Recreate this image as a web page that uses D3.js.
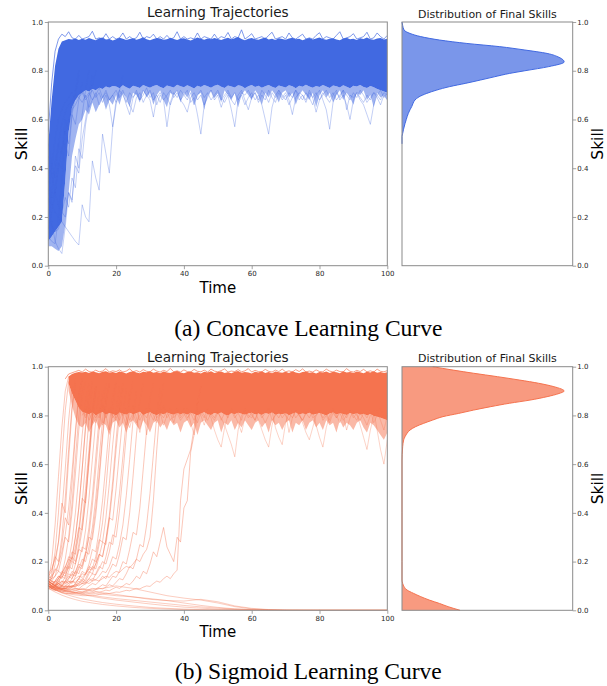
<!DOCTYPE html>
<html><head><meta charset="utf-8">
<script src="https://cdn.jsdelivr.net/npm/d3@7"></script>
<style>body{margin:0;background:#fff}svg{display:block}</style>
</head><body>
<svg id="chart" width="607" height="686"></svg>
<script>
// ---------- shared ticks / labels ----------
const timeTicks = [0, 20, 40, 60, 80, 100];
const skillTicks = [0, 0.2, 0.4, 0.6, 0.8, 1.0];
const skillTickLabels = ["0.0", "0.2", "0.4", "0.6", "0.8", "1.0"];
const panelTitles = ["Learning Trajectories", "Distribution of Final Skills"];
const axisLabels = {x: "Time", y: "Skill"};
const captions = ["(a) Concave Learning Curve", "(b) Sigmoid Learning Curve"];

// ---------- (a) concave: values at t = 0,1,2,... ----------
const concaveCoreUpper = [
0.50,0.68,0.82,0.89,0.92,0.925,0.93,0.928,0.932,0.926,
0.931,0.927,0.934,0.929,0.925,0.933,0.936,0.928,0.930,0.924,
0.929,0.935,0.931,0.926,0.930,0.933,0.927,0.931,0.937,0.929,
0.925,0.930,0.934,0.932,0.927,0.929,0.935,0.930,0.926,0.931,
0.933,0.928,0.924,0.930,0.936,0.931,0.927,0.932,0.929,0.934,
0.930,0.926,0.931,0.935,0.929,0.933,0.938,0.930,0.925,0.931,
0.934,0.929,0.927,0.932,0.936,0.928,0.931,0.926,0.933,0.930,
0.927,0.932,0.935,0.929,0.931,0.925,0.930,0.934,0.928,0.932,
0.936,0.930,0.927,0.931,0.933,0.928,0.925,0.932,0.935,0.929,
0.931,0.926,0.933,0.930,0.936,0.929,0.927,0.932,0.934,0.928,
0.931];
const concaveCoreLower = [
0.10,0.12,0.14,0.16,0.18,0.35,0.55,0.65,0.68,0.70,
0.71,0.72,0.715,0.725,0.72,0.73,0.725,0.735,0.73,0.737,
0.735,0.728,0.74,0.732,0.726,0.738,0.734,0.729,0.741,0.735,
0.73,0.737,0.742,0.733,0.728,0.739,0.735,0.731,0.743,0.736,
0.732,0.74,0.734,0.727,0.738,0.733,0.741,0.736,0.73,0.738,
0.743,0.734,0.729,0.739,0.735,0.731,0.74,0.737,0.728,0.736,
0.741,0.733,0.738,0.73,0.736,0.742,0.734,0.729,0.739,0.735,
0.731,0.74,0.736,0.728,0.738,0.734,0.743,0.735,0.73,0.737,
0.733,0.741,0.735,0.729,0.739,0.736,0.731,0.74,0.734,0.728,
0.738,0.735,0.742,0.733,0.729,0.737,0.732,0.725,0.72,0.715,
0.71];
const concaveFringeLower = [
0.08,0.08,0.07,0.06,0.08,0.17,0.30,0.45,0.52,0.58,
0.60,0.64,0.62,0.67,0.63,0.66,0.69,0.64,0.68,0.66,
0.70,0.66,0.71,0.69,0.65,0.71,0.70,0.67,0.72,0.69,
0.71,0.66,0.70,0.72,0.68,0.65,0.71,0.70,0.72,0.67,
0.71,0.69,0.72,0.66,0.70,0.71,0.64,0.70,0.72,0.69,
0.71,0.67,0.72,0.70,0.68,0.71,0.65,0.70,0.72,0.70,
0.68,0.72,0.70,0.66,0.71,0.69,0.72,0.70,0.67,0.71,
0.72,0.69,0.71,0.66,0.70,0.72,0.70,0.68,0.71,0.65,
0.70,0.72,0.69,0.71,0.67,0.70,0.72,0.68,0.71,0.69,
0.66,0.71,0.70,0.72,0.68,0.70,0.65,0.71,0.69,0.70,
0.68];
const concaveHigh1 = [
0.55,0.75,0.88,0.93,0.95,0.94,0.96,0.935,0.93,0.945,
0.93,0.935,0.94,0.962,0.93,0.935,0.93,0.952,0.93,0.94,
0.93,0.935,0.955,0.93,0.94,0.93,0.935,0.958,0.93,0.94,
0.935,0.95,0.93,0.94,0.93,0.945,0.93,0.935,0.96,0.93,
0.94,0.93,0.935,0.93,0.955,0.93,0.94,0.935,0.93,0.95,
0.93,0.94,0.935,0.957,0.93,0.94,0.935,0.968,0.93,0.94,
0.952,0.93,0.935,0.94,0.93,0.945,0.958,0.93,0.935,0.94,
0.93,0.955,0.935,0.93,0.94,0.95,0.93,0.935,0.93,0.945,
0.956,0.93,0.94,0.935,0.93,0.945,0.96,0.93,0.935,0.94,
0.952,0.93,0.935,0.94,0.958,0.93,0.935,0.955,0.94,0.93,
0.945];
const concaveLow1 = [
0.20,0.30,0.42,0.50,0.58,0.63,0.66,0.68,0.70,0.69,
0.71,0.68,0.70,0.72,0.69,0.71,0.67,0.70,0.66,0.57,
0.68,0.72,0.70,0.67,0.71,0.69,0.72,0.68,0.70,0.73,
0.69,0.71,0.66,0.70,0.68,0.57,0.67,0.71,0.69,0.72,
0.70,0.68,0.71,0.66,0.70,0.72,0.69,0.71,0.68,0.70,
0.72,0.69,0.67,0.70,0.64,0.57,0.68,0.71,0.70,0.72,
0.69,0.71,0.68,0.72,0.70,0.67,0.71,0.69,0.72,0.70,
0.68,0.71,0.69,0.72,0.70,0.68,0.71,0.69,0.66,0.70,
0.72,0.68,0.64,0.56,0.67,0.71,0.69,0.72,0.70,0.68,
0.71,0.69,0.72,0.70,0.67,0.69,0.71,0.70,0.68,0.71,
0.70];
const concaveLow2 = [
0.30,0.40,0.52,0.60,0.64,0.67,0.69,0.71,0.68,0.70,
0.72,0.69,0.71,0.68,0.70,0.73,0.69,0.71,0.68,0.70,
0.72,0.69,0.71,0.66,0.62,0.69,0.71,0.68,0.72,0.70,
0.68,0.61,0.69,0.71,0.68,0.70,0.72,0.69,0.71,0.68,
0.70,0.72,0.67,0.69,0.62,0.54,0.66,0.70,0.72,0.69,
0.71,0.68,0.70,0.72,0.69,0.71,0.68,0.70,0.66,0.69,
0.71,0.68,0.70,0.66,0.60,0.54,0.65,0.70,0.72,0.69,
0.71,0.68,0.62,0.69,0.71,0.70,0.68,0.72,0.69,0.71,
0.68,0.70,0.72,0.69,0.71,0.68,0.70,0.72,0.64,0.70,
0.69,0.71,0.68,0.66,0.62,0.58,0.66,0.70,0.72,0.69,
0.71];
const concaveLow3 = [
0.15,0.22,0.30,0.40,0.48,0.55,0.60,0.64,0.66,0.69,
0.67,0.70,0.65,0.68,0.71,0.66,0.69,0.72,0.68,0.70,
0.67,0.70,0.72,0.68,0.66,0.63,0.69,0.71,0.67,0.70,
0.72,0.68,0.70,0.67,0.71,0.69,0.66,0.70,0.72,0.68,
0.66,0.63,0.69,0.71,0.68,0.70,0.66,0.69,0.72,0.68,
0.70,0.65,0.69,0.71,0.68,0.66,0.70,0.72,0.68,0.64,
0.69,0.71,0.67,0.70,0.68,0.72,0.69,0.67,0.71,0.68,
0.70,0.66,0.69,0.72,0.68,0.70,0.67,0.71,0.69,0.63,
0.68,0.71,0.69,0.67,0.70,0.72,0.68,0.70,0.66,0.60,
0.68,0.71,0.69,0.67,0.70,0.68,0.71,0.69,0.66,0.70,
0.68];
// slow early learners (t = 0,1,2,... until they join the band)
const concaveEarly1 = [0.30,0.25,0.22,0.20,0.18,0.16,0.14,0.12,0.10,0.085,0.25,0.20,0.18,0.43,0.36,0.31,0.54,0.46,0.38,0.57,0.66,0.72,0.78];
const concaveEarly2 = [0.28,0.18,0.10,0.07,0.05,0.16,0.30,0.26,0.45,0.40,0.62,0.72,0.80];
const concaveEarly3 = [0.45,0.38,0.30,0.25,0.22,0.28,0.24,0.36,0.32,0.48,0.44,0.58,0.66,0.74,0.80];
const concaveEarly4 = [0.20,0.16,0.14,0.15,0.22,0.20,0.30,0.27,0.41,0.38,0.52,0.60,0.70,0.78];
const concaveEarly5 = [0.12,0.10,0.09,0.20,0.35,0.50,0.45,0.62,0.70,0.78];
const concaveEarly6 = [0.50,0.42,0.36,0.50,0.46,0.60,0.56,0.64,0.72,0.80];
const concaveEarly7 = [0.35,0.28,0.30,0.42,0.40,0.55,0.50,0.62,0.58,0.68,0.75];
const concaveKdeSkill = [0.50,0.53,0.543,0.56,0.584,0.60,0.625,0.64,0.653,0.667,0.68,0.693,0.707,0.72,0.735,0.748,0.762,0.775,0.789,0.80,0.817,0.836,0.855,0.871,0.885,0.899,0.912,0.926,0.94,0.953,0.967,0.985,1.0];
const concaveKdeDensity = [0,0,0.004,0.009,0.018,0.025,0.037,0.047,0.057,0.065,0.076,0.10,0.145,0.20,0.28,0.37,0.46,0.54,0.63,0.72,0.86,0.95,0.92,0.85,0.72,0.57,0.38,0.22,0.11,0.047,0.012,0.004,0];

// ---------- (b) sigmoid ----------
const sigmoidCoreUpper = [
null,null,null,null,null,null,0.96,0.97,0.975,0.978,
0.976,0.979,0.974,0.98,0.977,0.973,0.979,0.981,0.975,0.978,
0.974,0.98,0.977,0.972,0.978,0.981,0.976,0.973,0.979,0.977,
0.981,0.975,0.978,0.973,0.98,0.976,0.974,0.979,0.982,0.976,
0.973,0.978,0.98,0.975,0.977,0.972,0.979,0.976,0.981,0.974,
0.978,0.98,0.974,0.977,0.973,0.979,0.982,0.975,0.978,0.976,
0.972,0.979,0.976,0.981,0.974,0.978,0.973,0.98,0.977,0.975,
0.979,0.974,0.981,0.976,0.973,0.978,0.98,0.975,0.977,0.972,
0.978,0.976,0.98,0.974,0.979,0.977,0.973,0.981,0.976,0.978,
0.974,0.98,0.977,0.973,0.979,0.976,0.981,0.975,0.978,0.974,
0.977];
const sigmoidCoreLower = [
null,null,null,null,null,null,0.93,0.89,0.86,0.83,
0.815,0.81,0.805,0.812,0.80,0.808,0.814,0.803,0.81,0.806,
0.80,0.812,0.807,0.803,0.811,0.805,0.809,0.815,0.802,0.808,
0.813,0.806,0.801,0.809,0.804,0.812,0.807,0.803,0.81,0.805,
0.809,0.803,0.811,0.806,0.80,0.808,0.813,0.805,0.802,0.81,
0.806,0.812,0.804,0.80,0.809,0.805,0.811,0.807,0.803,0.808,
0.811,0.804,0.808,0.802,0.81,0.806,0.812,0.803,0.807,0.805,
0.809,0.801,0.807,0.812,0.804,0.808,0.805,0.811,0.803,0.806,
0.81,0.805,0.80,0.808,0.812,0.804,0.809,0.806,0.802,0.81,
0.805,0.809,0.803,0.807,0.80,0.806,0.798,0.795,0.79,0.785,
0.78];
const sigmoidFringeLower = [
null,null,null,null,null,null,0.90,0.84,0.79,0.76,
0.75,0.77,0.73,0.76,0.78,0.74,0.77,0.76,0.72,0.77,
0.78,0.75,0.77,0.73,0.77,0.78,0.76,0.74,0.78,0.76,
0.73,0.77,0.78,0.75,0.77,0.74,0.78,0.76,0.77,0.73,
0.77,0.78,0.75,0.77,0.72,0.77,0.78,0.76,0.74,0.77,
0.78,0.73,0.77,0.76,0.78,0.74,0.77,0.75,0.78,0.76,
0.74,0.77,0.78,0.75,0.77,0.73,0.78,0.76,0.77,0.74,
0.77,0.78,0.73,0.77,0.76,0.78,0.74,0.77,0.78,0.75,
0.77,0.74,0.78,0.76,0.77,0.73,0.78,0.75,0.77,0.76,
0.74,0.77,0.78,0.75,0.73,0.77,0.76,0.74,0.72,0.70,
0.73];
const sigmoidHigh1 = [
null,null,null,null,null,0.95,0.97,0.975,0.98,0.985,
0.978,0.99,0.98,0.977,0.986,0.979,0.982,0.992,0.978,0.983,
0.98,0.987,0.978,0.982,0.991,0.979,0.984,0.978,0.988,0.981,
0.979,0.99,0.982,0.978,0.985,0.98,0.993,0.979,0.983,0.978,
0.987,0.98,0.978,0.989,0.981,0.979,0.986,0.978,0.99,0.982,
0.979,0.984,0.991,0.978,0.982,0.98,0.988,0.979,0.983,0.992,
0.978,0.985,0.98,0.979,0.989,0.981,0.978,0.986,0.98,0.99,
0.979,0.983,0.978,0.988,0.98,0.991,0.979,0.982,0.978,0.987,
0.98,0.979,0.99,0.982,0.978,0.986,0.98,0.979,0.992,0.981,
0.978,0.985,0.98,0.989,0.979,0.983,0.978,0.99,0.981,0.979,
0.984];
const sigmoidSpike1 = [
null,null,null,null,null,null,null,null,null,null,
0.82,0.79,0.83,0.80,0.77,0.81,0.84,0.79,0.82,0.80,
0.78,0.83,0.80,0.76,0.81,0.84,0.79,0.73,0.80,0.83,
0.81,0.78,0.82,0.80,0.84,0.79,0.81,0.77,0.82,0.80,
0.83,0.79,0.81,0.78,0.82,0.80,0.76,0.81,0.79,0.74,
0.70,0.67,0.75,0.80,0.82,0.79,0.81,0.78,0.83,0.80,
0.79,0.82,0.78,0.74,0.70,0.67,0.76,0.81,0.79,0.82,
0.80,0.78,0.82,0.79,0.81,0.77,0.73,0.70,0.75,0.80,
0.82,0.79,0.81,0.78,0.83,0.80,0.77,0.81,0.79,0.82,
0.80,0.78,0.81,0.79,0.76,0.80,0.82,0.74,0.66,0.60,
0.70];
const sigmoidSpike2 = [
null,null,null,null,null,null,null,null,null,null,
0.80,0.83,0.78,0.81,0.79,0.82,0.76,0.80,0.83,0.79,
0.81,0.78,0.82,0.79,0.75,0.80,0.82,0.78,0.81,0.79,
0.83,0.80,0.77,0.81,0.79,0.82,0.78,0.80,0.83,0.79,
0.81,0.78,0.82,0.80,0.77,0.81,0.79,0.83,0.80,0.78,
0.81,0.79,0.76,0.72,0.68,0.63,0.74,0.80,0.82,0.79,
0.81,0.78,0.82,0.80,0.77,0.80,0.82,0.75,0.71,0.68,
0.77,0.81,0.79,0.82,0.80,0.78,0.81,0.79,0.82,0.76,
0.71,0.67,0.75,0.80,0.82,0.79,0.81,0.78,0.80,0.82,
0.79,0.81,0.76,0.71,0.66,0.74,0.80,0.82,0.78,0.74,
0.80];
const sigmoidSpike3 = [
null,null,null,null,null,null,null,null,null,null,
0.84,0.80,0.82,0.77,0.81,0.79,0.83,0.80,0.74,0.81,
0.79,0.82,0.80,0.83,0.78,0.81,0.77,0.80,0.82,0.72,
0.80,0.82,0.79,0.81,0.76,0.80,0.83,0.79,0.81,0.78,
0.80,0.83,0.77,0.72,0.79,0.82,0.80,0.78,0.81,0.79,
0.82,0.78,0.81,0.79,0.83,0.80,0.77,0.73,0.79,0.82,
0.80,0.78,0.82,0.79,0.81,0.83,0.78,0.80,0.82,0.79,
0.81,0.73,0.79,0.82,0.80,0.78,0.81,0.83,0.79,0.80,
0.82,0.78,0.80,0.77,0.81,0.79,0.82,0.80,0.74,0.79,
0.82,0.80,0.78,0.81,0.79,0.82,0.77,0.80,0.83,0.79,
0.81];
// rising trajectories (t = 0,1,2,... until they reach the band)
const sigmoidRise1 = [0.12,0.20,0.35,0.55,0.75,0.90,0.96];
const sigmoidRise2 = [0.10,0.15,0.24,0.40,0.62,0.82,0.94];
const sigmoidRise3 = [0.11,0.13,0.19,0.28,0.44,0.40,0.62,0.82,0.93];
const sigmoidRise4 = [0.14,0.16,0.22,0.20,0.30,0.46,0.66,0.84,0.95];
const sigmoidRise5 = [0.10,0.12,0.14,0.19,0.27,0.38,0.35,0.52,0.72,0.88,0.95];
const sigmoidRise6 = [0.09,0.10,0.12,0.11,0.15,0.21,0.30,0.44,0.62,0.80,0.92];
const sigmoidRise7 = [0.12,0.13,0.17,0.16,0.22,0.30,0.28,0.40,0.56,0.74,0.88,0.94];
const sigmoidRise8 = [0.10,0.11,0.10,0.13,0.16,0.15,0.20,0.28,0.40,0.55,0.72,0.86,0.93];
const sigmoidRise9 = [0.11,0.10,0.12,0.14,0.13,0.17,0.22,0.21,0.30,0.42,0.58,0.75,0.88,0.94];
const sigmoidRise10 = [0.10,0.09,0.10,0.12,0.11,0.14,0.18,0.17,0.24,0.33,0.46,0.44,0.62,0.80,0.91];
const sigmoidRise11 = [0.13,0.12,0.11,0.13,0.15,0.14,0.18,0.22,0.20,0.27,0.36,0.50,0.66,0.82,0.92];
const sigmoidRise12 = [0.10,0.09,0.095,0.11,0.10,0.12,0.15,0.14,0.19,0.25,0.24,0.33,0.46,0.62,0.78,0.90];
const sigmoidRise13 = [0.11,0.10,0.09,0.10,0.12,0.11,0.13,0.16,0.15,0.20,0.26,0.25,0.34,0.47,0.63,0.79,0.90];
const sigmoidRise14 = [0.09,0.085,0.08,0.09,0.085,0.10,0.12,0.11,0.14,0.18,0.17,0.23,0.31,0.43,0.58,0.74,0.87,0.93];
const sigmoidRise15 = [0.12,0.11,0.10,0.095,0.10,0.12,0.11,0.13,0.16,0.15,0.19,0.24,0.23,0.31,0.42,0.56,0.72,0.86,0.93];
const sigmoidRise16 = [0.10,0.095,0.09,0.085,0.09,0.085,0.10,0.12,0.11,0.13,0.16,0.15,0.19,0.25,0.24,0.33,0.45,0.60,0.76,0.88,0.94];
const sigmoidRise17 = [0.11,0.10,0.095,0.09,0.085,0.09,0.10,0.095,0.11,0.13,0.12,0.15,0.18,0.17,0.22,0.29,0.28,0.38,0.52,0.68,0.82,0.92];
const sigmoidRise18 = [0.10,0.09,0.085,0.08,0.085,0.08,0.09,0.10,0.095,0.11,0.13,0.12,0.15,0.18,0.17,0.22,0.28,0.27,0.37,0.50,0.66,0.80,0.91];
const sigmoidRise19 = [0.12,0.11,0.10,0.09,0.085,0.09,0.085,0.095,0.10,0.12,0.11,0.13,0.16,0.15,0.19,0.23,0.22,0.29,0.38,0.37,0.50,0.65,0.80,0.91];
const sigmoidRise20 = [0.10,0.09,0.085,0.08,0.075,0.08,0.078,0.085,0.09,0.088,0.10,0.11,0.13,0.12,0.15,0.18,0.17,0.22,0.28,0.27,0.36,0.48,0.63,0.78,0.90];
const sigmoidRise21 = [0.11,0.10,0.09,0.085,0.08,0.078,0.08,0.076,0.08,0.085,0.09,0.088,0.10,0.11,0.105,0.12,0.14,0.13,0.16,0.19,0.18,0.23,0.30,0.29,0.40,0.55,0.72,0.86,0.93];
const sigmoidRise22 = [0.10,0.09,0.083,0.077,0.072,0.07,0.068,0.07,0.072,0.075,0.074,0.08,0.085,0.09,0.088,0.095,0.105,0.10,0.12,0.14,0.135,0.16,0.20,0.19,0.25,0.32,0.31,0.42,0.58,0.74,0.87,0.93];
const sigmoidRise23 = [0.12,0.11,0.10,0.092,0.085,0.08,0.076,0.073,0.072,0.074,0.073,0.076,0.08,0.078,0.085,0.09,0.088,0.095,0.105,0.10,0.115,0.13,0.125,0.15,0.18,0.17,0.21,0.27,0.26,0.35,0.48,0.64,0.80,0.91];
const sigmoidRise24 = [0.11,0.10,0.09,0.085,0.08,0.076,0.072,0.07,0.068,0.067,0.068,0.07,0.069,0.072,0.075,0.074,0.078,0.083,0.08,0.088,0.095,0.09,0.10,0.11,0.105,0.12,0.14,0.13,0.16,0.15,0.19,0.24,0.22,0.28,0.34,0.26,0.23,0.20,0.30,0.28,0.42,0.45,0.65,0.72,0.85,0.92];
const sigmoidRise25 = [0.10,0.09,0.085,0.08,0.075,0.07,0.068,0.065,0.063,0.062,0.06,0.06,0.061,0.063,0.062,0.065,0.068,0.07,0.069,0.072,0.075,0.074,0.078,0.082,0.08,0.085,0.09,0.088,0.095,0.10,0.098,0.11,0.12,0.115,0.13,0.14,0.13,0.15,0.165,0.45,0.58,0.62,0.66,0.75,0.85,0.92];
const sigmoidRise26 = [0.12,0.11,0.105,0.10,0.098,0.10,0.097,0.10,0.105,0.10,0.11,0.115,0.11,0.12,0.125,0.12,0.13,0.14,0.135,0.15,0.16,0.155,0.17,0.18,0.175,0.19,0.21,0.20,0.23,0.25,0.30,0.45,0.66,0.84,0.93];
const sigmoidRise27 = [0.15,0.17,0.21,0.28,0.40,0.58,0.78,0.92];
const sigmoidRise28 = [0.13,0.14,0.16,0.19,0.24,0.31,0.42,0.57,0.74,0.89,0.95];
const sigmoidRise29 = [0.11,0.12,0.115,0.13,0.15,0.18,0.17,0.22,0.30,0.42,0.58,0.76,0.90];
const sigmoidRise30 = [0.12,0.11,0.12,0.14,0.135,0.16,0.19,0.24,0.23,0.31,0.44,0.61,0.79,0.92];
const sigmoidRise31 = [0.10,0.11,0.10,0.12,0.14,0.13,0.16,0.20,0.19,0.25,0.33,0.46,0.63,0.80,0.92];
const sigmoidRise32 = [0.14,0.13,0.14,0.16,0.15,0.18,0.21,0.20,0.26,0.34,0.33,0.45,0.60,0.77,0.90];
const sigmoidRise33 = [0.10,0.095,0.10,0.11,0.105,0.12,0.14,0.13,0.16,0.19,0.18,0.23,0.30,0.29,0.39,0.53,0.70,0.85,0.93];
const sigmoidRise34 = [0.11,0.10,0.10,0.11,0.12,0.115,0.13,0.15,0.14,0.17,0.21,0.20,0.26,0.34,0.46,0.62,0.78,0.91];
const sigmoidRise35 = [0.09,0.09,0.085,0.09,0.10,0.095,0.11,0.12,0.115,0.13,0.15,0.145,0.17,0.21,0.20,0.27,0.36,0.50,0.67,0.83,0.93];
const sigmoidRise36 = [0.12,0.11,0.105,0.11,0.10,0.11,0.12,0.115,0.13,0.14,0.135,0.15,0.17,0.165,0.19,0.23,0.22,0.29,0.39,0.53,0.70,0.85,0.93];
const sigmoidRise37 = [0.10,0.095,0.09,0.092,0.09,0.095,0.10,0.098,0.105,0.11,0.12,0.115,0.13,0.15,0.145,0.17,0.20,0.19,0.24,0.31,0.30,0.41,0.56,0.72,0.87,0.94];
const sigmoidRise38 = [0.11,0.10,0.095,0.09,0.092,0.09,0.095,0.10,0.098,0.105,0.11,0.108,0.12,0.13,0.125,0.14,0.16,0.155,0.18,0.22,0.21,0.27,0.35,0.47,0.62,0.78,0.90];
// trajectories that fade out, sampled at these times
const sigmoidDecayTimes = [0,2,4,6,8,10,13,16,20,25,30,35,40,45,50,55,60,65,70,80,100];
const sigmoidDecay1 = [0.10,0.085,0.072,0.062,0.054,0.047,0.039,0.032,0.025,0.018,0.012,0.008,0.005,0.003,0.002,0.001,0,0,0,0,0];
const sigmoidDecay2 = [0.12,0.10,0.09,0.08,0.072,0.065,0.057,0.05,0.042,0.034,0.026,0.019,0.013,0.009,0.005,0.003,0.002,0.001,0,0,0];
const sigmoidDecay3 = [0.11,0.10,0.092,0.086,0.08,0.076,0.07,0.066,0.06,0.055,0.048,0.04,0.03,0.02,0.012,0.006,0.003,0.001,0,0,0];
const sigmoidDecay4 = [0.10,0.095,0.09,0.088,0.086,0.085,0.086,0.09,0.10,0.09,0.075,0.06,0.05,0.042,0.03,0.015,0.006,0.002,0,0,0];
const sigmoidDecay5 = [0.13,0.11,0.10,0.095,0.09,0.085,0.08,0.072,0.065,0.055,0.045,0.04,0.038,0.045,0.035,0.018,0.008,0.003,0.001,0,0];
const sigmoidDecay6 = [0.09,0.075,0.062,0.052,0.044,0.037,0.03,0.024,0.018,0.012,0.008,0.005,0.003,0.002,0.001,0,0,0,0,0,0];
const sigmoidDecay7 = [0.10,0.092,0.084,0.078,0.072,0.067,0.061,0.055,0.048,0.041,0.034,0.027,0.02,0.014,0.009,0.005,0.003,0.001,0,0,0];
const sigmoidKdeSkill = [0,0.015,0.028,0.042,0.056,0.07,0.083,0.097,0.11,0.124,0.20,0.40,0.617,0.64,0.672,0.70,0.713,0.727,0.74,0.754,0.767,0.781,0.795,0.808,0.822,0.836,0.85,0.863,0.877,0.89,0.90,0.918,0.932,0.945,0.959,0.973,0.986,1.0];
const sigmoidKdeDensity = [0.34,0.27,0.22,0.16,0.11,0.066,0.03,0.012,0.004,0,0,0,0,0.001,0.004,0.01,0.018,0.03,0.047,0.08,0.125,0.18,0.24,0.33,0.42,0.52,0.63,0.75,0.85,0.92,0.95,0.89,0.80,0.69,0.56,0.42,0.30,0.18];

// ---------- layout ----------
const svg = d3.select("#chart");
const X0 = 48.3, X1 = 387.3, K0 = 402, K1 = 572.7;
const FONT = "DejaVu Sans, sans-serif";
const x = d3.scaleLinear().domain([0, 100]).range([X0, X1]);
const kx = d3.scaleLinear().domain([0, 1]).range([K0, K1]);

const panels = [
  {top: 22, bottom: 265.7, color: "#4169e1", kdeOpacity: 0.7, thinOpacity: 0.4, caption: captions[0], capY: 336,
   coreUpper: concaveCoreUpper, coreLower: concaveCoreLower, fringeLower: concaveFringeLower,
   highLines: [concaveHigh1], spikeLines: [concaveLow1, concaveLow2, concaveLow3],
   thinLines: [concaveEarly1, concaveEarly2, concaveEarly3, concaveEarly4, concaveEarly5, concaveEarly6, concaveEarly7],
   decayTimes: [], decayLines: [],
   kdeSkill: concaveKdeSkill, kdeDensity: concaveKdeDensity},
  {top: 366.7, bottom: 610.3, color: "#f5734f", kdeOpacity: 0.72, thinOpacity: 0.5, caption: captions[1], capY: 679,
   coreUpper: sigmoidCoreUpper, coreLower: sigmoidCoreLower, fringeLower: sigmoidFringeLower,
   highLines: [sigmoidHigh1], spikeLines: [sigmoidSpike1, sigmoidSpike2, sigmoidSpike3],
   thinLines: [sigmoidRise1, sigmoidRise2, sigmoidRise3, sigmoidRise4, sigmoidRise5, sigmoidRise6, sigmoidRise7,
     sigmoidRise8, sigmoidRise9, sigmoidRise10, sigmoidRise11, sigmoidRise12, sigmoidRise13, sigmoidRise14,
     sigmoidRise15, sigmoidRise16, sigmoidRise17, sigmoidRise18, sigmoidRise19, sigmoidRise20, sigmoidRise21,
     sigmoidRise22, sigmoidRise23, sigmoidRise24, sigmoidRise25, sigmoidRise26, sigmoidRise27, sigmoidRise28,
     sigmoidRise29, sigmoidRise30, sigmoidRise31, sigmoidRise32, sigmoidRise33, sigmoidRise34, sigmoidRise35,
     sigmoidRise36, sigmoidRise37, sigmoidRise38],
   decayTimes: sigmoidDecayTimes,
   decayLines: [sigmoidDecay1, sigmoidDecay2, sigmoidDecay3, sigmoidDecay4, sigmoidDecay5, sigmoidDecay6, sigmoidDecay7],
   kdeSkill: sigmoidKdeSkill, kdeDensity: sigmoidKdeDensity}
];

const defs = svg.append("defs");

function styleAxis(g) {
  g.attr("font-size", 7).attr("font-family", FONT);
  g.selectAll(".domain").remove();
  g.selectAll(".tick line").attr("stroke", "#8a8a8a").attr("stroke-width", 0.8);
  g.selectAll(".tick text").attr("fill", "#262626");
}

panels.forEach((p, idx) => {
  const y = d3.scaleLinear().domain([0, 1]).range([p.bottom, p.top]);
  const clipId = "clip" + idx;
  defs.append("clipPath").attr("id", clipId).append("rect")
    .attr("x", X0).attr("y", p.top).attr("width", X1 - X0).attr("height", p.bottom - p.top);
  const plot = svg.append("g").attr("clip-path", `url(#${clipId})`);

  const rows = p.coreUpper.map((u, i) => ({t: i, hi: u, lo: p.coreLower[i], fl: p.fringeLower[i]}));
  plot.append("path").datum(rows)
    .attr("d", d3.area().defined(d => d.lo != null && d.fl != null)
      .x(d => x(d.t)).y0(d => y(d.fl)).y1(d => y(d.lo)))
    .attr("fill", p.color).attr("fill-opacity", 0.5);
  plot.append("path").datum(rows)
    .attr("d", d3.area().defined(d => d.lo != null && d.hi != null)
      .x(d => x(d.t)).y0(d => y(d.lo)).y1(d => y(d.hi)))
    .attr("fill", p.color);

  const line = d3.line().defined(v => v != null).x((v, i) => x(i)).y(v => y(v));
  const drawLines = (arrs, op, w) => arrs.forEach(a => plot.append("path").datum(a)
    .attr("d", line).attr("fill", "none").attr("stroke", p.color)
    .attr("stroke-opacity", op).attr("stroke-width", w).attr("stroke-linejoin", "round"));
  drawLines(p.spikeLines, 0.4, 0.8);
  drawLines(p.highLines, 0.75, 0.9);
  drawLines(p.thinLines, p.thinOpacity, 0.8);
  const dline = d3.line().x((v, i) => x(p.decayTimes[i])).y(v => y(v));
  p.decayLines.forEach(a => plot.append("path").datum(a).attr("d", dline)
    .attr("fill", "none").attr("stroke", p.color).attr("stroke-opacity", 0.45).attr("stroke-width", 0.8));

  // axes of trajectory plot
  svg.append("g").attr("transform", `translate(${X0},0)`)
    .call(d3.axisLeft(y).tickValues(skillTicks).tickFormat((d, i) => skillTickLabels[i]).tickSize(3.5).tickPadding(1.8))
    .call(styleAxis);
  svg.append("g").attr("transform", `translate(0,${p.bottom})`)
    .call(d3.axisBottom(x).tickValues(timeTicks).tickFormat(d => String(d)).tickSize(3.5).tickPadding(2))
    .call(styleAxis);
  svg.append("rect").attr("x", X0).attr("y", p.top).attr("width", X1 - X0).attr("height", p.bottom - p.top)
    .attr("fill", "none").attr("stroke", "#8a8a8a").attr("stroke-width", 1);

  // KDE plot
  const kde = p.kdeSkill.map((s, i) => ({s, d: p.kdeDensity[i]})).sort((a, b) => b.s - a.s);
  svg.append("path").datum(kde)
    .attr("d", d3.area().curve(d3.curveMonotoneY).y(d => y(d.s)).x0(kx(0)).x1(d => kx(d.d)))
    .attr("fill", p.color).attr("fill-opacity", p.kdeOpacity);
  svg.append("path").datum(kde)
    .attr("d", d3.line().curve(d3.curveMonotoneY).y(d => y(d.s)).x(d => kx(d.d)))
    .attr("fill", "none").attr("stroke", p.color).attr("stroke-width", 1);
  svg.append("g").attr("transform", `translate(${K1},0)`)
    .call(d3.axisRight(y).tickValues(skillTicks).tickFormat((d, i) => skillTickLabels[i]).tickSize(3.5).tickPadding(1))
    .call(styleAxis);
  svg.append("rect").attr("x", K0).attr("y", p.top).attr("width", K1 - K0).attr("height", p.bottom - p.top)
    .attr("fill", "none").attr("stroke", "#8a8a8a").attr("stroke-width", 1);

  // texts
  svg.append("text").attr("x", (X0 + X1) / 2).attr("y", p.top - 5).attr("text-anchor", "middle")
    .attr("font-family", FONT).attr("font-size", 13.6).attr("fill", "#1a1a1a").text(panelTitles[0]);
  svg.append("text").attr("x", (K0 + K1) / 2).attr("y", p.top - 4.5).attr("text-anchor", "middle")
    .attr("font-family", FONT).attr("font-size", 11).attr("fill", "#1a1a1a").text(panelTitles[1]);
  const cy = (p.top + p.bottom) / 2;
  svg.append("text").attr("transform", `translate(27,${cy}) rotate(-90)`).attr("text-anchor", "middle")
    .attr("font-family", FONT).attr("font-size", 16).attr("fill", "#000").text(axisLabels.y);
  svg.append("text").attr("transform", `translate(602.5,${cy}) rotate(-90)`).attr("text-anchor", "middle")
    .attr("font-family", FONT).attr("font-size", 15.5).attr("fill", "#000").text(axisLabels.y);
  svg.append("text").attr("x", (X0 + X1) / 2).attr("y", p.bottom + 27).attr("text-anchor", "middle")
    .attr("font-family", FONT).attr("font-size", 15).attr("fill", "#000").text(axisLabels.x);
  svg.append("text").attr("x", 308.3).attr("y", p.capY).attr("text-anchor", "middle")
    .attr("font-family", "Liberation Serif, Times New Roman, serif").attr("font-size", 23.5).attr("fill", "#000")
    .text(p.caption);
});
</script>
</body></html>
